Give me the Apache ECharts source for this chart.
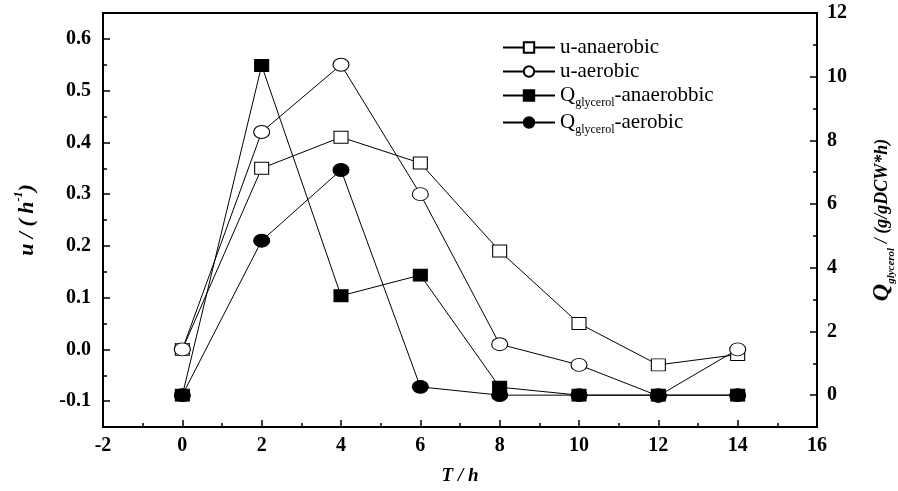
<!DOCTYPE html>
<html>
<head>
<meta charset="utf-8">
<script src="https://cdn.jsdelivr.net/npm/echarts@6/dist/echarts.min.js"></script>
<style>html,body{margin:0;padding:0;background:#fff;}#c{width:898px;height:491px;}</style>
</head>
<body>
<div id="c"></div>
<script>
const timeH = [0, 2, 4, 6, 8, 10, 12, 14];
const uAnaerobic = [0.00, 0.35, 0.41, 0.36, 0.19, 0.05, -0.03, -0.01];
const uAerobic = [0.00, 0.42, 0.55, 0.30, 0.01, -0.03, -0.09, 0.00];
const qAnaerobic = [0, 10.35, 3.12, 3.77, 0.25, 0, 0, 0];
const qAerobic = [0, 4.85, 7.07, 0.26, 0, 0, 0, 0];
const leftLabels = [-0.1, 0.0, 0.1, 0.2, 0.3, 0.4, 0.5, 0.6];
const leftMinor = [-0.05, 0.05, 0.15, 0.25, 0.35, 0.45, 0.55];
const rightLabels = [0, 2, 4, 6, 8, 10, 12];
const rightMinor = [1, 3, 5, 7, 9, 11];
const seriesNames = ['u-anaerobic', 'u-aerobic', 'Qglycerol-anaerobbic', 'Qglycerol-aerobic'];

const FONT = '"Liberation Serif", "DejaVu Serif", serif';
const pair = arr => timeH.map((t, i) => [t, arr[i]]);
const chart = echarts.init(document.getElementById('c'));
const lbl = {color: '#000', fontFamily: FONT, fontWeight: 'bold', fontSize: 20};
const axisLine = {show: true, onZero: false, lineStyle: {color: '#000', width: 2}};

function lineSeries(name, data, yIdx, symbol, size, filled) {
  return {
    name, type: 'line', yAxisIndex: yIdx, data: pair(data),
    symbol, symbolSize: size, showSymbol: true,
    lineStyle: {color: '#000', width: 1},
    itemStyle: {color: filled ? '#000' : '#fff', borderColor: '#000', borderWidth: 1},
    emphasis: {disabled: true}, animation: false, z: filled ? 3 : 2
  };
}

chart.setOption({
  backgroundColor: '#fff',
  animation: false,
  grid: {left: 103, right: 81, top: 13, bottom: 64, outerBoundsMode: 'none', containLabel: false,
         show: true, borderColor: '#000', borderWidth: 2, backgroundColor: 'transparent'},
  legend: {
    orient: 'vertical', left: 497, top: 32, itemWidth: 52, itemHeight: 13, itemGap: 3,
    data: seriesNames,
    formatter: n => n.startsWith('Q') ? '{t|Q}{sub|glycerol}{t|' + n.slice(9) + '}' : '{t|' + n + '}',
    textStyle: {color: '#000', fontFamily: FONT, fontSize: 21, rich: {
      t: {fontFamily: FONT, fontSize: 21, color: '#000', lineHeight: 23},
      sub: {fontFamily: FONT, fontSize: 12, color: '#000', verticalAlign: 'bottom', lineHeight: 27}
    }}
  },
  xAxis: {
    type: 'value', min: -2, max: 16, interval: 2,
    axisLine, axisTick: {inside: true, length: 7, lineStyle: {color: '#000', width: 1.5}},
    minorTick: {show: true, splitNumber: 2, length: 4, lineStyle: {color: '#000', width: 1.5}},
    splitLine: {show: false}, minorSplitLine: {show: false},
    axisLabel: Object.assign({margin: 9}, lbl),
    name: 'T / h', nameLocation: 'middle', nameGap: 40,
    nameTextStyle: {color: '#000', fontFamily: FONT, fontWeight: 'bold', fontStyle: 'italic', fontSize: 19}
  },
  yAxis: [
    {
      type: 'value', position: 'left', min: -0.15, max: 0.65,
      axisLine, splitLine: {show: false},
      axisTick: {inside: true, length: 7, customValues: leftLabels, lineStyle: {color: '#000', width: 1.5}},
      axisLabel: Object.assign({margin: 12, customValues: leftLabels, formatter: v => v.toFixed(1)}, lbl),
      name: '{i|u / ( h}{sup|-1}{i|)}', nameLocation: 'middle', nameGap: 62, nameRotate: 90,
      nameTextStyle: {rich: {
        i: {color: '#000', fontFamily: FONT, fontWeight: 'bold', fontStyle: 'italic', fontSize: 22, lineHeight: 28},
        sup: {color: '#000', fontFamily: FONT, fontWeight: 'bold', fontStyle: 'italic', fontSize: 12, verticalAlign: 'top', lineHeight: 28}
      }}
    },
    {
      type: 'value', position: 'right', min: -1, max: 12,
      axisLine, splitLine: {show: false},
      axisTick: {inside: true, length: 7, customValues: rightLabels, lineStyle: {color: '#000', width: 1.5}},
      axisLabel: Object.assign({margin: 10, customValues: rightLabels}, lbl),
      name: '{q|Q}{sub|glycerol}{t| / (g/gDCW*h)}', nameLocation: 'middle', nameGap: 50, nameRotate: 90,
      nameTextStyle: {rich: {
        q: {color: '#000', fontFamily: FONT, fontWeight: 'bold', fontStyle: 'italic', fontSize: 24, lineHeight: 30},
        sub: {color: '#000', fontFamily: FONT, fontWeight: 'bold', fontStyle: 'italic', fontSize: 11, verticalAlign: 'bottom', lineHeight: 30},
        t: {color: '#000', fontFamily: FONT, fontWeight: 'bold', fontStyle: 'italic', fontSize: 18, lineHeight: 30}
      }}
    },
    {
      type: 'value', position: 'left', min: -0.15, max: 0.65,
      axisLine: {show: false, onZero: false}, splitLine: {show: false}, axisLabel: {show: false},
      axisTick: {inside: true, length: 4, customValues: leftMinor, lineStyle: {color: '#000', width: 1.5}}
    },
    {
      type: 'value', position: 'right', min: -1, max: 12,
      axisLine: {show: false, onZero: false}, splitLine: {show: false}, axisLabel: {show: false},
      axisTick: {inside: true, length: 4, customValues: rightMinor, lineStyle: {color: '#000', width: 1.5}}
    }
  ],
  series: [
    lineSeries(seriesNames[0], uAnaerobic, 0, 'rect', [14, 12], false),
    lineSeries(seriesNames[1], uAerobic, 0, 'circle', [16, 13], false),
    lineSeries(seriesNames[2], qAnaerobic, 1, 'rect', [14, 12], true),
    lineSeries(seriesNames[3], qAerobic, 1, 'circle', [16, 13], true)
  ]
});
</script>
</body>
</html>
